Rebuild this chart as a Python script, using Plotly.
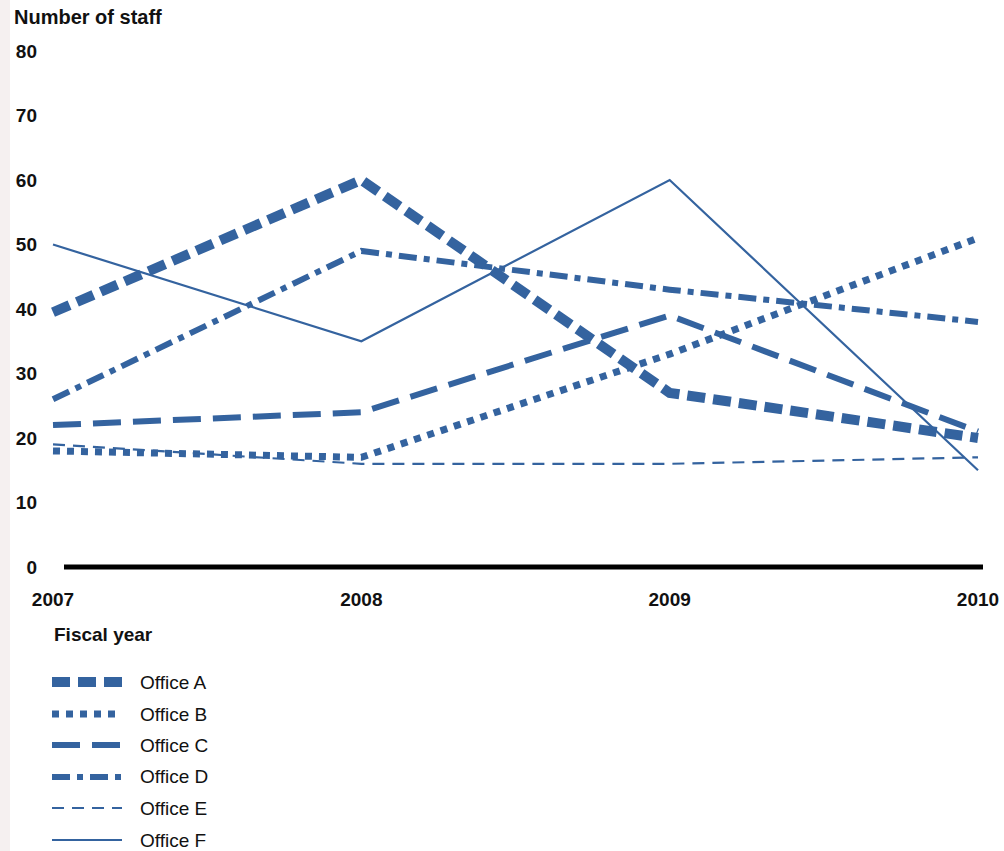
import plotly.graph_objects as go

years = [2007, 2008, 2009, 2010]
office_names = ["Office A", "Office B", "Office C", "Office D", "Office E", "Office F"]
office_a = [39.5, 60, 27, 20]
office_b = [18, 17, 33, 51]
office_c = [22, 24, 39, 21]
office_d = [26, 49, 43, 38]
office_e = [19, 16, 16, 17]
office_f = [50, 35, 60, 15]
y_ticks = [0, 10, 20, 30, 40, 50, 60, 70, 80]
series = [office_a, office_b, office_c, office_d, office_e, office_f]

BLUE = "#34639f"
FONT = "Liberation Sans, Arial, sans-serif"
styles = [
    dict(width=10, dash="18px,8px"),
    dict(width=7, dash="7px,7px"),
    dict(width=6, dash="28px,12px"),
    dict(width=6, dash="18px,7px,6px,7px"),
    dict(width=2.2, dash="12px,8px"),
    dict(width=2.2, dash="solid"),
]

W, H = 1004, 851
ML, MR, MT, MB = 40, 4, 40, 271
PW, PH = W - ML - MR, H - MT - MB
# pixel helpers for decorations
def px(xp):
    return (xp - ML) / PW
def py(yp):
    return (H - MB - yp) / PH

fig = go.Figure()
for name, vals, st in zip(office_names, series, styles):
    fig.add_trace(go.Scatter(x=years, y=vals, mode="lines", name=name,
                             line=dict(color=BLUE, width=st["width"], dash=st["dash"]),
                             showlegend=False))

# x-range so that 2007 sits at pixel 53 and 2010 at 978
scale = (978 - 53) / 3
x0 = 2007 - (53 - ML) / scale
x1 = x0 + PW / scale
yscale = (567 - 51) / 80
y0 = -((H - MB) - 567) / yscale
y1 = y0 + PH / yscale

shapes = []
# zero baseline
shapes.append(dict(type="line", xref="x", yref="y",
                   x0=2007 + (64 - 53) / scale, x1=2007 + (983 - 53) / scale,
                   y0=0, y1=0, line=dict(color="black", width=5), layer="below"))
# faint left edge strip
shapes.append(dict(type="rect", xref="paper", yref="paper", x0=px(0), x1=px(10), y0=py(851), y1=py(0),
                   fillcolor="#f5f0f0", line=dict(width=0), layer="below"))

annotations = [
    dict(text="<b>Number of staff</b>", xref="paper", yref="paper", x=px(12), y=py(17),
         xanchor="left", yanchor="middle", showarrow=False, font=dict(size=20, color="#111", family=FONT)),
    dict(text="<b>Fiscal year</b>", xref="paper", yref="paper", x=px(52), y=py(634),
         xanchor="left", yanchor="middle", showarrow=False, font=dict(size=19, color="#111", family=FONT)),
]

leg_y = [682, 714, 745, 777, 808, 840]
for name, st, yy in zip(office_names, styles, leg_y):
    shapes.append(dict(type="line", xref="paper", yref="paper", x0=px(52), x1=px(122), y0=py(yy), y1=py(yy),
                       line=dict(color=BLUE, width=min(st["width"], 10), dash=st["dash"])))
    annotations.append(dict(text=name, xref="paper", yref="paper", x=px(138), y=py(yy),
                            xanchor="left", yanchor="middle", showarrow=False,
                            font=dict(size=19, color="#111", family=FONT)))

fig.update_layout(
    width=W, height=H,
    margin=dict(l=ML, r=MR, t=MT, b=MB, autoexpand=False),
    plot_bgcolor="white", paper_bgcolor="white",
    font=dict(family=FONT, color="#111"),
    shapes=shapes, annotations=annotations,
    xaxis=dict(range=[x0, x1], tickvals=years, ticktext=["<b>%d</b>" % y for y in years],
               showgrid=False, zeroline=False, showline=False, ticks="",
               ticklabelstandoff=6, tickfont=dict(size=19, family=FONT, color="#111")),
    yaxis=dict(range=[y0, y1], tickvals=y_ticks, ticktext=["<b>%d</b>" % v for v in y_ticks],
               showgrid=False, zeroline=False, showline=False, ticks="",
               ticklabelstandoff=2, tickfont=dict(size=19, family=FONT, color="#111")),
)

fig.write_html("out.html")
